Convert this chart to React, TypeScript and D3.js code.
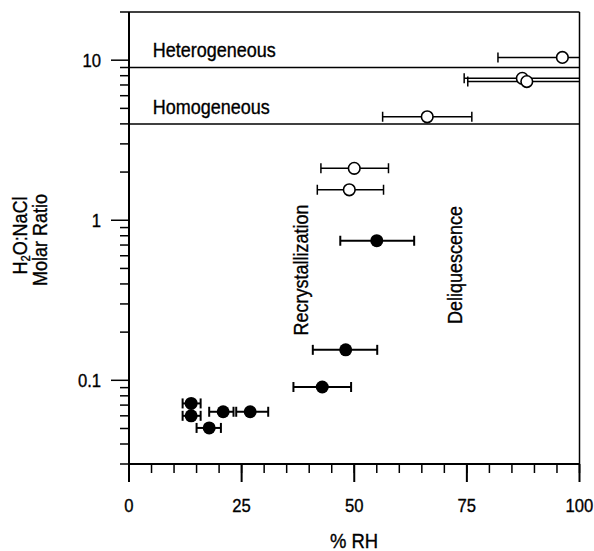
import React from 'react';
import * as d3 from 'd3';

// open circles: above deliquescence / homogeneous region
const openRH = [96.2, 87.3, 88.3, 66.2, 50.0, 48.9];
const openRatio = [10.4, 7.7, 7.35, 4.43, 2.11, 1.55];
const openLo = [81.9, 74.4, 75.2, 56.3, 42.6, 41.8];
const openHi = [110.5, 100.5, 101.4, 76.1, 57.6, 56.5];

// filled circles
const filledRH = [55.0, 48.1, 42.9, 13.8, 13.8, 20.9, 26.9, 17.8];
const filledRatio = [0.745, 0.155, 0.0908, 0.0717, 0.06, 0.0636, 0.0636, 0.0504];
const filledLo = [46.9, 40.8, 36.5, 11.9, 11.9, 17.8, 23.8, 15.0];
const filledHi = [63.3, 55.1, 49.3, 15.9, 15.9, 23.2, 30.9, 20.4];

const xTickLabels = [0, 25, 50, 75, 100];
const yTickLabels = [0.1, 1, 10];
const phaseLines = [
  { value: 9, label: 'Heterogeneous' },
  { value: 4, label: 'Homogeneous' },
];

const W = 594;
const H = 551;
const left = 129;
const right = 579.5;
const top = 12;
const bottom = 464;
const font = '"Liberation Sans", Arial, Helvetica, sans-serif';
const squeeze = 0.9;

const x = d3.scaleLinear().domain([0, 100]).range([left, right]);
const y = d3.scaleLog().domain([0.03, 20]).range([bottom, top]);

// minor ticks 2..9 per decade
const yMinor: number[] = [];
[0.01, 0.1, 1, 10].forEach(dec => {
  for (let k = 2; k <= 9; k++) {
    const v = dec * k;
    if (v >= 0.03 && v <= 20.0001) yMinor.push(v);
  }
});
const xMinor = d3.range(0, 101, 5);

const toPoints = (rh: number[], ratio: number[], lo: number[], hi: number[]) =>
  rh.map((v, i) => ({ rh: v, ratio: ratio[i], lo: lo[i], hi: hi[i] }));

const openPts = toPoints(openRH, openRatio, openLo, openHi);
const filledPts = toPoints(filledRH, filledRatio, filledLo, filledHi);

const Label = ({ x: tx, y: ty, rotate = 0, anchor = 'start', size = 20, children }: any) => (
  <text
    transform={`translate(${tx},${ty}) rotate(${rotate}) scale(${squeeze},1)`}
    textAnchor={anchor}
    fontFamily={font}
    fontSize={size}
    fill="#000"
    stroke="#000"
    strokeWidth={0.35}
  >
    {children}
  </text>
);

const ErrorBars = ({ pts, width }: any) => (
  <g clipPath="url(#plot)" stroke="#000" strokeWidth={width}>
    {pts.map((d: any, i: number) => {
      const cy = y(d.ratio);
      return (
        <g key={i}>
          <line x1={x(d.lo)} x2={x(d.hi)} y1={cy} y2={cy} />
          <line x1={x(d.lo)} x2={x(d.lo)} y1={cy - 5} y2={cy + 5} />
          <line x1={x(d.hi)} x2={x(d.hi)} y1={cy - 5} y2={cy + 5} />
        </g>
      );
    })}
  </g>
);

export default function App() {
  return (
    <svg width={W} height={H} style={{ position: 'absolute', left: 0, top: 0, background: '#fff' }}>
      <defs>
        <clipPath id="plot">
          <rect x={left} y={top} width={right - left} height={bottom - top} />
        </clipPath>
      </defs>

      {/* frame */}
      <line x1={left} x2={right} y1={top} y2={top} stroke="#000" strokeWidth={1.5} />
      <line x1={right} x2={right} y1={top} y2={bottom} stroke="#000" strokeWidth={1.5} />
      <line x1={left} x2={left} y1={top} y2={bottom} stroke="#000" strokeWidth={2} />
      <line x1={left} x2={right} y1={bottom} y2={bottom} stroke="#000" strokeWidth={2} />

      {/* y ticks */}
      {yMinor.map(v => (
        <line key={'ym' + v} x1={left - 9} x2={left} y1={y(v)} y2={y(v)} stroke="#000" strokeWidth={1.5} />
      ))}
      {yTickLabels.map(v => (
        <g key={'yt' + v}>
          <line x1={left - 18} x2={left} y1={y(v)} y2={y(v)} stroke="#000" strokeWidth={1.5} />
          <Label x={101} y={y(v) + 6.5} anchor="end" size={18.5}>{String(v)}</Label>
        </g>
      ))}

      {/* x ticks */}
      {xMinor.map(v => (
        <line key={'xm' + v} x1={x(v)} x2={x(v)} y1={bottom} y2={bottom + 9} stroke="#000" strokeWidth={1.5} />
      ))}
      {xTickLabels.map(v => (
        <g key={'xt' + v}>
          <line x1={x(v)} x2={x(v)} y1={bottom} y2={bottom + 18} stroke="#000" strokeWidth={2} />
          <Label x={x(v)} y={511.5} anchor="middle" size={18.5}>{String(v)}</Label>
        </g>
      ))}

      {/* phase boundaries */}
      {phaseLines.map(p => (
        <line key={p.label} x1={left} x2={right} y1={y(p.value)} y2={y(p.value)} stroke="#000" strokeWidth={1.5} />
      ))}
      <Label x={152.7} y={57.3}>{phaseLines[0].label}</Label>
      <Label x={152.7} y={114}>{phaseLines[1].label}</Label>

      <Label x={308} y={270} rotate={-90} anchor="middle">Recrystallization</Label>
      <Label x={461.7} y={265} rotate={-90} anchor="middle">Deliquescence</Label>

      {/* axis titles */}
      <Label x={26.5} y={235.5} rotate={-90} anchor="middle">
        H<tspan fontSize={12.5} dy={3}>2</tspan><tspan dy={-3}>O:NaCl</tspan>
      </Label>
      <Label x={47} y={240} rotate={-90} anchor="middle">Molar Ratio</Label>
      <Label x={354} y={548} anchor="middle" size={20.5}>% RH</Label>

      {/* data */}
      <ErrorBars pts={openPts} width={1.5} />
      <ErrorBars pts={filledPts} width={2} />
      {openPts.map((d, i) => (
        <circle key={'o' + i} cx={x(d.rh)} cy={y(d.ratio)} r={5.8} fill="#fff" stroke="#000" strokeWidth={1.6} />
      ))}
      {filledPts.map((d, i) => (
        <circle key={'f' + i} cx={x(d.rh)} cy={y(d.ratio)} r={6.5} fill="#000" />
      ))}
    </svg>
  );
}
